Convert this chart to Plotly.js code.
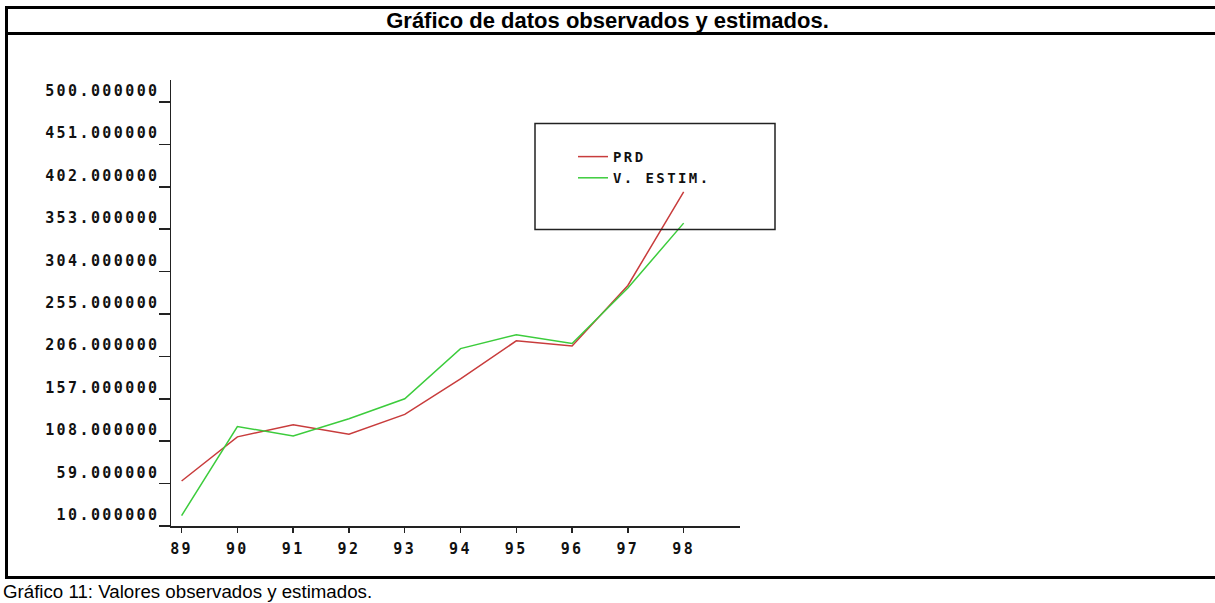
<!DOCTYPE html>
<html>
<head>
<meta charset="utf-8">
<script src="https://cdn.plot.ly/plotly-3.0.1.min.js"></script>
<style>
  html, body { margin: 0; padding: 0; background: #fff; }
  #chart { width: 1215px; height: 603px; }
  .ytick text, .xtick text { letter-spacing: 2.4px; }
  .legendtext { letter-spacing: 2.4px; }
</style>
</head>
<body>
<div id="chart"></div>
<script>
// ---- data ----
const years = [89, 90, 91, 92, 93, 94, 95, 96, 97, 98];
const yearLabels = ["89", "90", "91", "92", "93", "94", "95", "96", "97", "98"];
const prd = [62, 113, 127, 116, 139, 180, 224, 218, 288, 396];
const vEstim = [22, 125, 114, 134, 157, 215, 231, 221, 285, 360];
const seriesNames = ["PRD", "V. ESTIM."];
const yTickStart = 10;
const yTickStep = 49;

const W = 1215, H = 603;
const L = 171, R = 740, T = 80, B = 526;
const px = p => (p - L) / (R - L);
const py = q => (B - q) / (B - T);

const monoFont = { family: "DejaVu Sans Mono", size: 15, color: "#111", weight: "bold" };

const traces = [
  { x: years, y: prd, name: seriesNames[0], type: "scatter", mode: "lines",
    line: { color: "#c83c3c", width: 1.5 } },
  { x: years, y: vEstim, name: seriesNames[1], type: "scatter", mode: "lines",
    line: { color: "#3ccc3c", width: 1.5 } }
];

const frame = "#000";
const layout = {
  width: W, height: H,
  margin: { l: L, r: W - R, t: T, b: H - B, pad: 0 },
  paper_bgcolor: "#fff", plot_bgcolor: "#fff",
  title: {
    text: "<b>Gráfico de datos observados y estimados.</b>",
    font: { family: "Liberation Sans, Arial", size: 22, color: "#000" },
    x: 0.5, xref: "container", xanchor: "center",
    y: 1 - 20.5 / H, yref: "container", yanchor: "middle"
  },
  showlegend: true,
  legend: {
    x: px(573), y: py(141), xanchor: "left", yanchor: "top",
    bgcolor: "rgba(0,0,0,0)", borderwidth: 0,
    font: { family: "DejaVu Sans Mono", size: 14, color: "#111", weight: "bold" },
    tracegroupgap: 0, itemwidth: 30
  },
  xaxis: {
    range: [88.81, 99.01],
    tickmode: "array", tickvals: years, ticktext: yearLabels,
    showline: true, linecolor: "#222", linewidth: 1.5,
    ticks: "outside", ticklen: 5, tickwidth: 1.5, tickcolor: "#222",
    showgrid: false, zeroline: false,
    tickfont: monoFont,
    ticklabelstandoff: 3,
    fixedrange: true
  },
  yaxis: {
    range: [10, 525.4],
    tickmode: "linear", tick0: yTickStart, dtick: yTickStep,
    tickformat: ".6f",
    showline: true, linecolor: "#222", linewidth: 1.5,
    ticks: "outside", ticklen: 11, tickwidth: 1.5, tickcolor: "#222",
    ticklabelposition: "outside top",
    ticklabelstandoff: 7,
    showgrid: false, zeroline: false,
    tickfont: monoFont,
    fixedrange: true
  },
  shapes: [
    // outer frame
    { type: "line", xref: "paper", yref: "paper", x0: px(6.5), x1: px(1215), y0: py(7.5), y1: py(7.5), line: { color: frame, width: 3 } },
    { type: "line", xref: "paper", yref: "paper", x0: px(6.5), x1: px(1215), y0: py(33.5), y1: py(33.5), line: { color: frame, width: 3 } },
    { type: "line", xref: "paper", yref: "paper", x0: px(6.5), x1: px(1215), y0: py(577.5), y1: py(577.5), line: { color: frame, width: 3 } },
    { type: "line", xref: "paper", yref: "paper", x0: px(6.5), x1: px(6.5), y0: py(6), y1: py(579), line: { color: frame, width: 3 } },
    // legend box
    { type: "rect", xref: "paper", yref: "paper", x0: px(535), x1: px(775), y0: py(123.5), y1: py(229.5), line: { color: "#222", width: 1.5 } }
  ],
  annotations: [
    { text: "Gráfico 11: Valores observados y estimados.", xref: "paper", yref: "paper",
      x: px(1), y: py(591), xanchor: "left", yanchor: "middle", showarrow: false,
      font: { family: "Liberation Sans, Arial", size: 18.7, color: "#000" } }
  ]
};

Plotly.newPlot("chart", traces, layout, { displayModeBar: false, staticPlot: true });
</script>
</body>
</html>
